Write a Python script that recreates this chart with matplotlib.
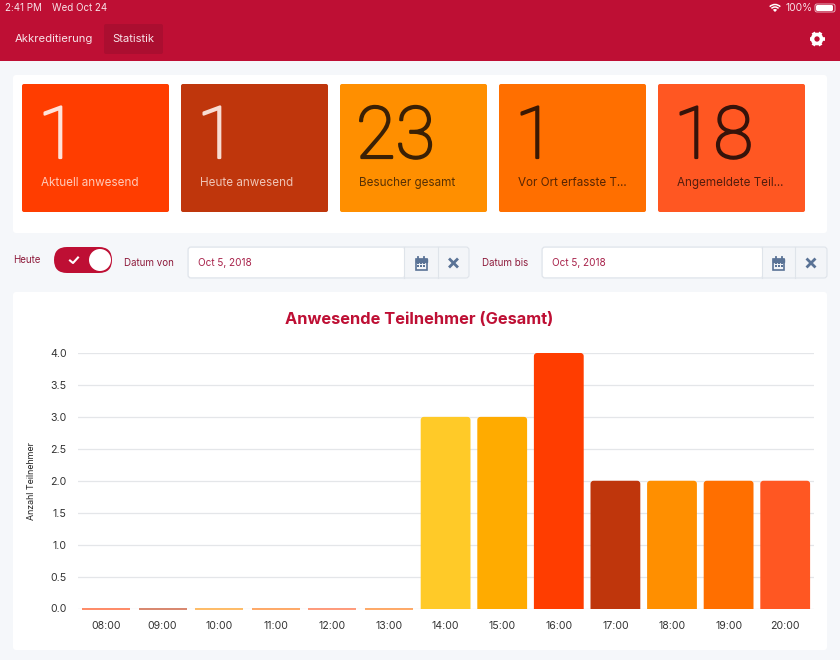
import matplotlib
matplotlib.use('Agg')
import matplotlib.pyplot as plt
import matplotlib.patheffects as pe
from matplotlib.patches import Rectangle, FancyBboxPatch, Circle, Arc, Wedge

plt.rcParams['font.family'] = ['Inter', 'DejaVu Sans']

# chart data
hours = ['08:00', '09:00', '10:00', '11:00', '12:00', '13:00', '14:00',
         '15:00', '16:00', '17:00', '18:00', '19:00', '20:00']
attendees = [0, 0, 0, 0, 0, 0, 3, 3, 4, 2, 2, 2, 2]
bar_colors = ['#FF3D00', '#BF360C', '#FF8F00', '#FF6F00', '#FF5722', '#FF6F00',
              '#FFCA28', '#FFAB00', '#FF3D00', '#BF360C', '#FF8F00', '#FF6F00', '#FF5722']
y_ticks = [0.0, 0.5, 1.0, 1.5, 2.0, 2.5, 3.0, 3.5, 4.0]

# tiles on top
tile_values = ['1', '1', '23', '1', '18']
tile_labels = ['Aktuell anwesend', 'Heute anwesend', 'Besucher gesamt',
               'Vor Ort erfasste T...', 'Angemeldete Teil...']
tile_colors = ['#FF3D00', '#BF360C', '#FF8F00', '#FF6F00', '#FF5722']
tile_text = ['#FFE3DA', '#F8DDD3', '#3A2005', '#3A1803', '#36130A']

RED = '#BE0F34'
W, H = 840, 660
fig = plt.figure(figsize=(W / 100, H / 100), dpi=100, facecolor='#F5F7FA')

# page chrome, drawn in pixel coordinates
ui = fig.add_axes([0, 0, 1, 1])
ui.set_xlim(0, W)
ui.set_ylim(H, 0)
ui.axis('off')


def box(x0, y0, x1, y1, color, r=2, ec='none', lw=0, z=1):
    ui.add_patch(FancyBboxPatch((x0 + r, y0 + r), x1 - x0 - 2 * r, y1 - y0 - 2 * r,
                                boxstyle='round,pad=%g,rounding_size=%g' % (r, r),
                                fc=color, ec=ec, lw=lw, zorder=z))


def label(x, y, s, size, color='#8E1B3B', **kw):
    kw.setdefault('va', 'center')
    ui.text(x, y, s, fontsize=size, color=color, **kw)


def calendar(cx, cy):
    c = '#5A7396'
    ui.add_patch(Rectangle((cx - 5.5, cy - 4.5), 11, 11, fc='none', ec=c, lw=1.2, zorder=3))
    ui.add_patch(Rectangle((cx - 5.5, cy - 4.5), 11, 3, fc=c, ec=c, lw=1, zorder=3))
    for dx in (-3, 3):
        ui.plot([cx + dx, cx + dx], [cy - 6.5, cy - 4], color=c, lw=1.3, zorder=3)
    for dy in (0, 3):
        for dx in (-3, 0, 3):
            ui.add_patch(Rectangle((cx + dx - 1, cy + dy - 0.7), 2, 1.6, fc=c, ec='none', zorder=3))


def cross(cx, cy):
    c = '#5A7396'
    ui.plot([cx - 3.5, cx + 3.5], [cy - 3.5, cy + 3.5], color=c, lw=2, zorder=3)
    ui.plot([cx - 3.5, cx + 3.5], [cy + 3.5, cy - 3.5], color=c, lw=2, zorder=3)


def gear(cx, cy):
    ui.add_patch(Circle((cx, cy), 4.5, fc='none', ec='white', lw=2.6, zorder=3))
    for dx, dy in [(7.5, 0), (3.8, 6.5), (3.8, -6.5)]:
        ui.plot([cx - dx, cx + dx], [cy - dy, cy + dy], color='white', lw=2.6,
                solid_capstyle='butt', zorder=2)
    ui.add_patch(Circle((cx, cy), 4.5, fc=RED, ec='none', zorder=2.5))


def date_field(x0, x_white, x_div, x1, text):
    box(x0, 247, x1, 278, '#F3F5F8', r=3, ec='#DFE4EA', lw=0.8)
    box(x0 + 1, 248, x_white, 277, 'white', r=2, z=2)
    ui.plot([x_white, x_white], [247, 278], color='#DFE4EA', lw=0.8, zorder=3)
    ui.plot([x_div, x_div], [247, 278], color='#DFE4EA', lw=0.8, zorder=3)
    label(x0 + 10, 262.5, text, 7.2, color='#A8224A', zorder=4)
    calendar((x_white + x_div) / 2, 263)
    cross((x_div + x1) / 2, 263)


# header
ui.add_patch(Rectangle((0, 0), W, 61, fc=RED, ec='none'))
box(104, 24, 163, 54, '#AB0E30', r=2)
label(15, 39.5, 'Akkreditierung', 8.1, color='#F8E3E8')
label(112, 39.5, 'Statistik', 8.1, color='#F8E3E8')
label(5, 8, '2:41 PM', 7, color='#F8E3E8')
label(52, 8, 'Wed Oct 24', 7, color='#F8E3E8')
label(786, 8, '100%', 7.4, color='#F8E3E8')
box(815, 4, 835, 12, RED, r=2, ec='#F0C8D2', lw=0.6, z=2)
box(816, 5, 833, 11, 'white', r=1.5, z=3)
ui.add_patch(Wedge((775, 12), 3, 225, 315, fc='white', ec='none'))
ui.add_patch(Arc((775, 12), 10, 10, theta1=225, theta2=315, color='white', lw=1.1))
ui.add_patch(Arc((775, 12), 15, 15, theta1=225, theta2=315, color='white', lw=1.1))
gear(817, 39)

# tile panel
box(13, 75, 827, 233, 'white', r=3)
tile_left = 22
for i in range(len(tile_values)):
    x0 = tile_left + i * 159
    box(x0, 84, x0 + 147, 212, tile_colors[i], r=2, z=2)
    # the installed light cut is too thin, thicken it a bit with a stroke
    t = ui.text(x0 + 16, 158, tile_values[i], fontsize=52, color=tile_text[i], zorder=3,
                family='Roboto', fontweight='light', va='baseline')
    t.set_path_effects([pe.withStroke(linewidth=1.6, foreground=tile_text[i])])
    label(x0 + 19, 183, tile_labels[i], 8.4, color=tile_text[i], zorder=3, alpha=0.85)

# filter row
label(13, 260, 'Heute', 7, color='#8E1B3B')
box(54, 247, 112, 273, RED, r=13, z=2)
ui.add_patch(Circle((100, 260), 11, fc='white', ec='none', zorder=3))
ui.plot([70, 73, 78], [260.5, 263, 257.5], color='white', lw=1.5, zorder=3)
label(124, 262.5, 'Datum von', 7, color='#8E1B3B')
date_field(188, 404, 438, 469, 'Oct 5, 2018')
label(482, 262.5, 'Datum bis', 7, color='#8E1B3B')
date_field(542, 762, 795, 827, 'Oct 5, 2018')

# chart card
box(13, 292, 827, 650, 'white', r=3)
label(419, 319.5, 'Anwesende Teilnehmer (Gesamt)', 11.8, color=RED, ha='center',
      fontweight='bold')
label(31, 481, 'Anzahl Teilnehmer', 6.4, color='#222222', ha='center', rotation=90)

# bar chart
ax = fig.add_axes([77.7 / W, 1 - 608.5 / H, (813.5 - 77.7) / W, (608.5 - 353) / H])
ax.patch.set_alpha(0)
ax.set_xlim(-0.5, 12.5)
ax.set_ylim(0, 4)
ax.grid(axis='y', color='#E4E6E9', lw=0.9, zorder=0)
ax.set_axisbelow(True)
# px per x unit / px per y unit, keeps the corners round
aspect = (735.8 / 13) / (255.5 / 4)
for i in range(len(hours)):
    if attendees[i] == 0:
        # empty hours only show the outline, in a washed out tint
        ax.bar(i, attendees[i], width=0.85, color=bar_colors[i], edgecolor=bar_colors[i],
               linewidth=1.4, alpha=0.6, zorder=2, clip_on=False)
    else:
        # swap the bar for a rounded one, started below zero so the axes cut the bottom flat
        b = ax.bar(i, attendees[i], width=0.88, color=bar_colors[i], zorder=2)[0]
        x, w, h = b.get_x(), b.get_width(), b.get_height()
        b.remove()
        ax.add_patch(FancyBboxPatch((x, -0.1), w, h + 0.1, fc=bar_colors[i], ec='none', zorder=2,
                                    boxstyle='round,pad=0,rounding_size=0.055',
                                    mutation_aspect=aspect))
ax.set_xticks(range(len(hours)))
ax.set_xticklabels(hours)
ax.set_yticks(y_ticks)
ax.set_yticklabels(['%.1f' % v for v in y_ticks])
ax.tick_params(axis='both', length=0, labelsize=7.6, labelcolor='#333333')
ax.tick_params(axis='x', pad=9)
ax.tick_params(axis='y', pad=8)
for s in ax.spines.values():
    s.set_visible(False)

fig.savefig('out.png', dpi=100, facecolor=fig.get_facecolor())
